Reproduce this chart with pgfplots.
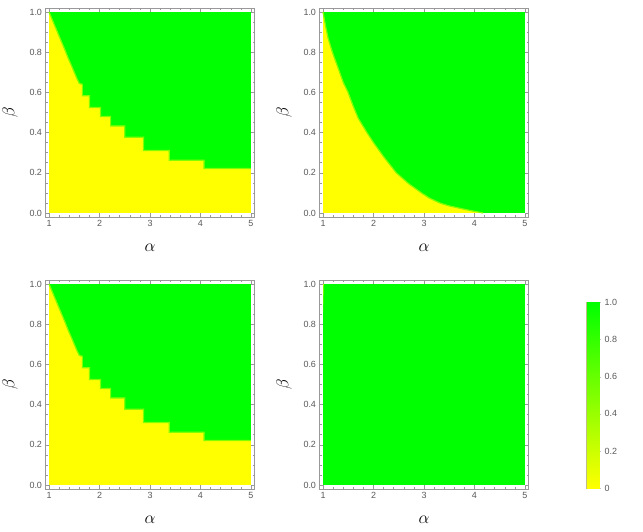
\documentclass[border=0pt]{standalone}
\usepackage{fontspec}
\setmainfont{Liberation Sans}
\usepackage{pgfplots}
\pgfplotsset{compat=1.18}
\definecolor{mgreen}{rgb}{0,1,0}
\definecolor{myellow}{rgb}{1,1,0}
\definecolor{framegray}{gray}{0.6}
\definecolor{labgray}{gray}{0.35}

\pgfplotsset{
  panel/.style={
    scale only axis, width=209bp, height=209bp, anchor=south west,
    xmin=0.93, xmax=5.07, ymin=-0.02, ymax=1.02,
    xtick={1,2,3,4,5}, ytick={0,0.2,0.4,0.6,0.8,1},
    minor x tick num=4, minor y tick num=3,
    tick align=inside, major tick length=4bp, minor tick length=2bp,
    axis line style={framegray, line width=0.8bp},
    every tick/.append style={framegray, line width=0.5bp},
    ticklabel style={font=\fontsize{9}{10}\selectfont, text=labgray},
    /pgf/number format/assume math mode=true,
    yticklabel style={/pgf/number format/.cd, fixed, fixed zerofill, precision=1},
    xlabel={$\alpha$}, ylabel={$\beta$},
    label style={font=\fontsize{17.5}{18}\selectfont},
    xlabel style={at={(axis description cs:0.5,-0.148)}, anchor=center},
    ylabel style={at={(axis description cs:-0.17,0.5)}, anchor=center},
  },
  edge/.style={draw=myellow!50!mgreen, line width=1.2bp,
    skip coords between index={0}{1}},
}

% yellow region (steady = 0) below the boundary, green elsewhere
\pgfplotstableread{
a b
1.00 0
1.00 1.00
1.10 0.94
1.20 0.88
1.30 0.82
1.38 0.77
1.45 0.73
1.50 0.70
1.55 0.67
1.60 0.645
1.66 0.64
1.66 0.583
1.80 0.583
1.80 0.525
2.02 0.525
2.02 0.48
2.22 0.48
2.22 0.433
2.50 0.433
2.50 0.377
2.87 0.377
2.87 0.311
3.38 0.311
3.38 0.262
4.07 0.262
4.07 0.221
5.00 0.221
5.00 0
}\steps

\pgfplotstableread{
a b
1.00 0
1.00 1.00
1.05 0.93
1.10 0.87
1.185 0.80
1.30 0.72
1.40 0.65
1.495 0.60
1.60 0.53
1.70 0.47
1.87 0.40
2.00 0.35
2.20 0.28
2.45 0.20
2.70 0.145
2.95 0.10
3.10 0.075
3.31 0.05
3.50 0.035
3.77 0.02
4.00 0.008
4.17 0
}\smooth

\begin{document}
\begin{tikzpicture}
\path[use as bounding box] (0,0) rectangle (643bp,532bp);

\begin{axis}[panel, at={(45.5bp,315bp)}]
  \addplot[fill=mgreen, draw=none] coordinates {(1,0)(5,0)(5,1)(1,1)} --cycle;
  \addplot[fill=myellow, draw=none] table[x=a,y=b] {\steps} --cycle;
  \addplot[edge, skip coords between index={27}{28}] table[x=a,y=b] {\steps};
\end{axis}

\begin{axis}[panel, at={(319.5bp,315bp)}]
  \addplot[fill=mgreen, draw=none] coordinates {(1,0)(5,0)(5,1)(1,1)} --cycle;
  \addplot[fill=myellow, draw=none] table[x=a,y=b] {\smooth} --cycle;
  \addplot[edge] table[x=a,y=b] {\smooth};
\end{axis}

\begin{axis}[panel, at={(45.5bp,43bp)}]
  \addplot[fill=mgreen, draw=none] coordinates {(1,0)(5,0)(5,1)(1,1)} --cycle;
  \addplot[fill=myellow, draw=none] table[x=a,y=b] {\steps} --cycle;
  \addplot[edge, skip coords between index={27}{28}] table[x=a,y=b] {\steps};
\end{axis}

\begin{axis}[panel, at={(319.5bp,43bp)}]
  \addplot[fill=mgreen, draw=none] coordinates {(1,0)(5,0)(5,1)(1,1)} --cycle;
  \addplot[fill=myellow!70!mgreen, draw=none] coordinates {(1,0.86)(1,1)(1.015,1)} --cycle;
\end{axis}

% colour bar
\begin{axis}[scale only axis, width=12.3bp, height=186bp, anchor=south west,
  at={(586.7bp,43.7bp)},
  xmin=0, xmax=1, ymin=0, ymax=1,
  xtick=\empty, ytick={0,0.2,0.4,0.6,0.8,1},
  yticklabels={0,0.2,0.4,0.6,0.8,1.0},
  ytick pos=right, yticklabel pos=right,
  tick align=outside, major tick length=2bp,
  axis line style={framegray!70!yellow, line width=0.5bp},
  every tick/.append style={framegray!60},
  ticklabel style={font=\fontsize{9}{10}\selectfont, text=labgray},
  colormap={yg}{rgb=(1,1,0) rgb=(0,1,0)},
  point meta min=0, point meta max=1]
  \addplot[surf, shader=interp, point meta=y, mesh/cols=2] coordinates {
    (0,0) (1,0)
    (0,1) (1,1)
  };
\end{axis}
\end{tikzpicture}
\end{document}
